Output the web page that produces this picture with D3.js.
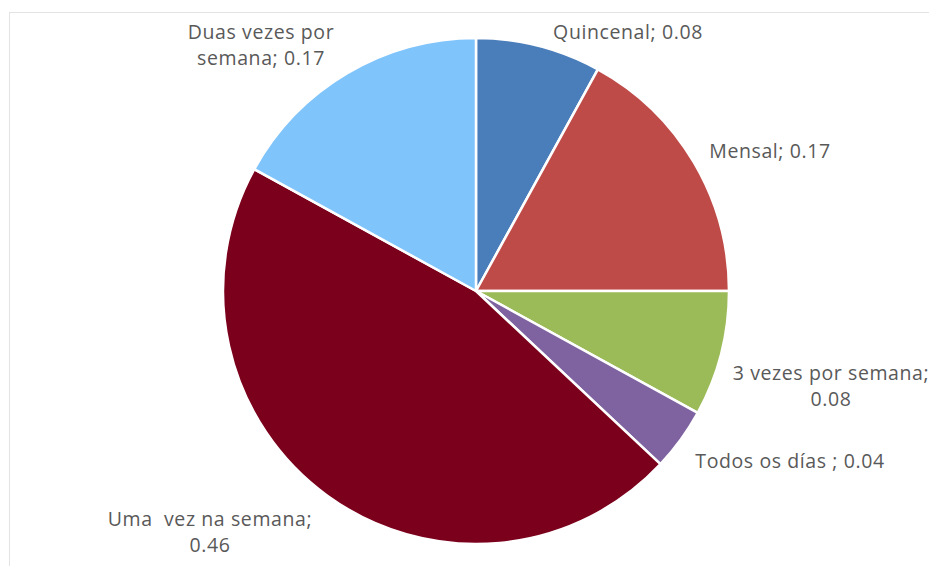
<!DOCTYPE html>
<html>
<head>
<meta charset="utf-8">
<script src="https://cdn.jsdelivr.net/npm/d3@7"></script>
<style>
  body { margin: 0; background: #fff; }
  svg { display: block; }
  .lbl { font-family: "Open Sans", "Noto Sans", sans-serif; font-size: 19.5px; letter-spacing: 0.6px; fill: #595959; white-space: pre; }
</style>
</head>
<body>
<svg id="chart" width="929" height="566"></svg>
<script>
// slices, clockwise from 12 o'clock
const categories = ["Quincenal", "Mensal", "3 vezes por semana", "Todos os días ", "Uma  vez na semana", "Duas vezes por semana"];
const values = [0.08, 0.17, 0.08, 0.04, 0.46, 0.17];
const colors = ["#4a7ebb", "#be4b48", "#9bbb59", "#7f63a1", "#7b001c", "#80c4fc"];
// label lines as in the picture
const labelLines = [
  ["Quincenal; 0.08"],
  ["Mensal; 0.17"],
  ["3 vezes por semana;", "0.08"],
  ["Todos os días ; 0.04"],
  ["Uma  vez na semana;", "0.46"],
  ["Duas vezes por", "semana; 0.17"]
];

const width = 929, height = 566;
const cx = 476, cy = 291, radius = 253;

const svg = d3.select("#chart");

// chart area frame (only top/left visible)
svg.append("rect")
  .attr("x", 9.5).attr("y", 12.5)
  .attr("width", 1000).attr("height", 600)
  .attr("fill", "none")
  .attr("stroke", "#e3e3e3");

const data = categories.map((c, i) => ({ label: c, value: values[i], color: colors[i], lines: labelLines[i] }));

const pie = d3.pie().sort(null).value(d => d.value);
const arc = d3.arc().innerRadius(0).outerRadius(radius);
const arcs = pie(data);

const g = svg.append("g").attr("transform", `translate(${cx},${cy})`);

g.selectAll("path.slice")
  .data(arcs)
  .enter()
  .append("path")
  .attr("class", "slice")
  .attr("d", arc)
  .attr("fill", d => d.data.color)
  .attr("stroke", "#fff")
  .attr("stroke-width", 2.5)
  .attr("stroke-linejoin", "round");

// labels placed outside the pie, like Excel's best fit
const labelPos = [
  [152, -259],   // Quincenal
  [294, -140],   // Mensal
  [355, 82],     // 3 vezes
  [314, 170],    // Todos
  [-266, 228],   // Uma vez
  [-215, -259]   // Duas vezes
];
const lineH = 26;

const labels = svg.append("g");
arcs.forEach((d, i) => {
  const [lx, ly] = labelPos[i];
  const t = labels.append("text")
    .attr("class", "lbl")
    .attr("text-anchor", "middle")
    .attr("x", cx + lx)
    .attr("y", cy + ly);
  d.data.lines.forEach((line, j) => {
    t.append("tspan")
      .attr("x", cx + lx)
      .attr("dy", j === 0 ? "0.35em" : lineH)
      .text(line);
  });
});
</script>
</body>
</html>
